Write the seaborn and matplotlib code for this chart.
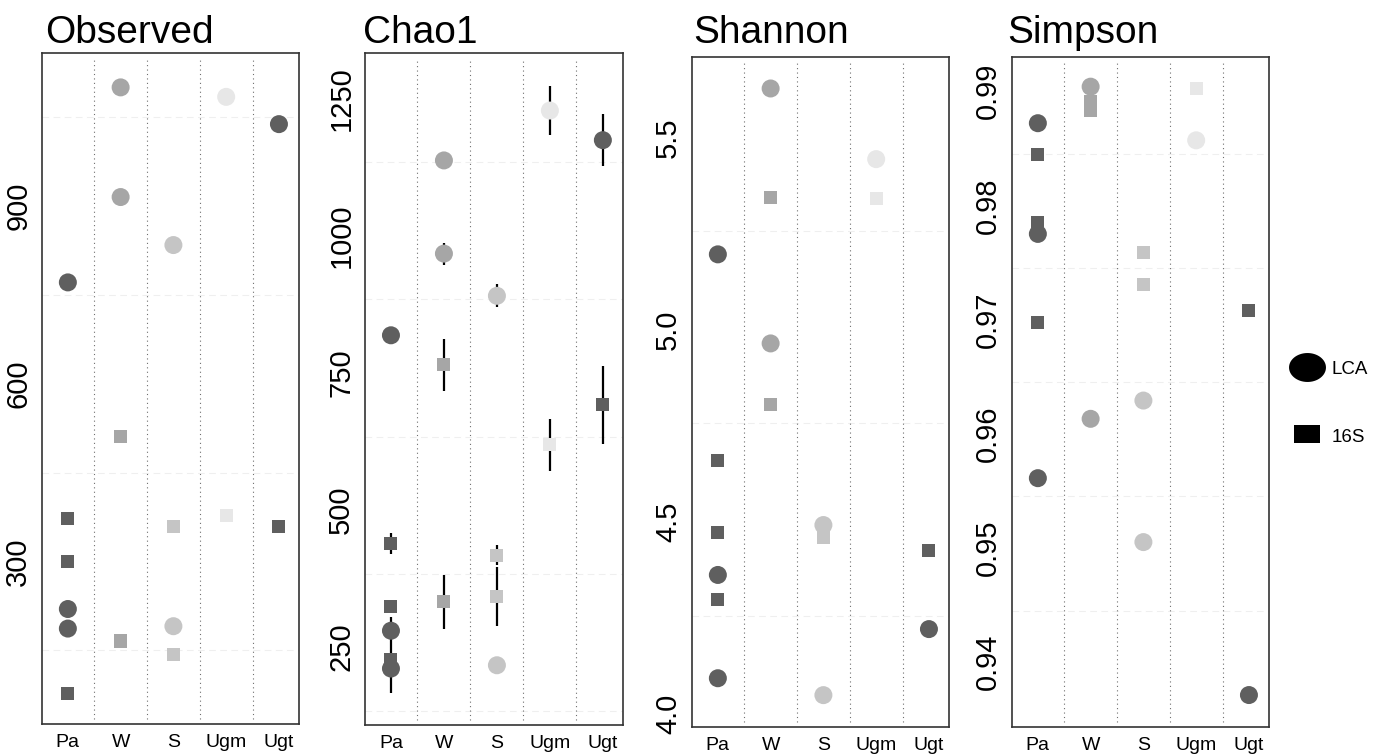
import matplotlib
matplotlib.use("Agg")
import matplotlib.pyplot as plt
from matplotlib.lines import Line2D
from matplotlib.path import Path
import numpy as np
import pandas as pd
import seaborn as sns

# Sites (x categories) and the site of each of the nine samples
sites = ["Pa", "W", "S", "Ugm", "Ugt"]
sample_site = ["Pa", "Pa", "Pa", "W", "W", "S", "S", "Ugm", "Ugt"]
site_colors = ["#5f5f5f", "#a6a6a6", "#c5c5c5", "#e7e7e7", "#5f5f5f"]

# Alpha-diversity estimates per sample, for LCA and 16S classifications
observed_lca = [771, 220, 187, 1100, 915, 834, 191, 1084, 1038]
observed_16s = [373, 300, 77.5, 511, 166, 360, 143, 377, 360]

chao1_lca = [819, 280, 211, 1138, 968, 891, 217, 1229, 1175]
chao1_lca_se = [0, 25, 44, 0, 20, 21, 0, 45, 47]
chao1_16s = [439, 325, 228, 765, 333, 418, 342, 619, 692]
chao1_16s_se = [19, 0, 0, 47, 49, 19, 54, 47, 71]

shannon_lca = [5.197, 4.362, 4.093, 5.629, 4.965, 4.492, 4.049, 5.445, 4.221]
shannon_16s = [4.661, 4.473, 4.297, 5.345, 4.807, 4.470, 4.460, 5.343, 4.426]

simpson_lca = [0.9872, 0.9775, 0.9561, 0.9904, 0.9613, 0.9629, 0.9505, 0.9857, 0.9371]
simpson_16s = [0.9845, 0.9785, 0.9697, 0.9891, 0.9883, 0.9759, 0.9731, 0.9902, 0.9708]

# Axis ticks
observed_ticks = [300, 600, 900]
chao1_ticks = [250, 500, 750, 1000, 1250]
shannon_ticks = [4.0, 4.5, 5.0, 5.5]
simpson_ticks = [0.94, 0.95, 0.96, 0.97, 0.98, 0.99]

sns.set_theme(style="white")
plt.rcParams["font.family"] = ["Liberation Sans", "DejaVu Sans"]

palette = dict(zip(sites, site_colors))


def long_table(lca, s16, lca_se=None, s16_se=None):
    n = len(sample_site)
    df = pd.DataFrame({
        "site": sample_site * 2,
        "method": ["LCA"] * n + ["16S"] * n,
        "value": list(lca) + list(s16),
        "se": (list(lca_se) if lca_se else [0] * n) + (list(s16_se) if s16_se else [0] * n),
    })
    df["site"] = pd.Categorical(df["site"], categories=sites, ordered=True)
    df["pos"] = df["site"].cat.codes
    return df


panels = [
    dict(title="Observed", df=long_table(observed_lca, observed_16s),
         ticks=observed_ticks, fmt="{:.0f}", ylim=(26, 1158),
         grid=[150, 450, 750, 1050], errors=False,
         rect=(42, 53, 299, 724), title_x=45),
    dict(title="Chao1", df=long_table(chao1_lca, chao1_16s, chao1_lca_se, chao1_16s_se),
         ticks=chao1_ticks, fmt="{:.0f}", ylim=(108, 1334),
         grid=[133, 383, 633, 885, 1135], errors=True,
         rect=(365, 53, 623, 725), title_x=363),
    dict(title="Shannon", df=long_table(shannon_lca, shannon_16s),
         ticks=shannon_ticks, fmt="{:.1f}", ylim=(3.966, 5.711),
         grid=[4.255, 4.758, 5.258], errors=False,
         rect=(692, 57, 949, 727), title_x=693),
    dict(title="Simpson", df=long_table(simpson_lca, simpson_16s),
         ticks=simpson_ticks, fmt="{:.2f}", ylim=(0.9343, 0.9930),
         grid=[0.9445, 0.9545, 0.9645, 0.9745, 0.9845], errors=False,
         rect=(1012, 57, 1269, 727), title_x=1007),
]

W, H = 1377, 755
fig = plt.figure(figsize=(W / 100, H / 100), dpi=100)

for p in panels:
    x0, y0, x1, y1 = p["rect"]
    ax = fig.add_axes([x0 / W, 1 - y1 / H, (x1 - x0) / W, (y1 - y0) / H])
    df = p["df"]

    for g in p["grid"]:
        ax.axhline(g, color="#efefef", lw=0.8, ls=(0, (6, 4)), zorder=0)
    for i in range(len(sites) - 1):
        ax.axvline(i + 0.5, ymin=0.008, ymax=0.992, color="#6e6e6e",
                   lw=0.8, ls=(0, (1, 3)), zorder=0)

    if p["errors"]:
        e = df[df["se"] > 0]
        ax.errorbar(e["pos"], e["value"], yerr=e["se"], fmt="none",
                    ecolor="black", elinewidth=1.6, capsize=0, zorder=1)

    sns.scatterplot(data=df[df["method"] == "16S"], x="pos", y="value",
                    hue="site", palette=palette, marker="s", s=88,
                    linewidth=0, legend=False, ax=ax, zorder=2)
    sns.scatterplot(data=df[df["method"] == "LCA"], x="pos", y="value",
                    hue="site", palette=palette, marker="o", s=168,
                    linewidth=0, legend=False, ax=ax, zorder=3)

    ax.set_xlim(-0.49, 4.38)
    ax.set_ylim(*p["ylim"])
    ax.set_xticks(range(len(sites)))
    ax.set_xticklabels(sites, fontsize=14, color="black")
    ax.set_yticks(p["ticks"])
    ax.set_yticklabels([p["fmt"].format(t) for t in p["ticks"]],
                       fontsize=21, rotation=90, va="center", color="black")
    ax.tick_params(axis="both", length=0)
    ax.tick_params(axis="y", pad=7)
    ax.tick_params(axis="x", pad=7.5)
    ax.set_xlabel("")
    ax.set_ylabel("")
    for sp in ax.spines.values():
        sp.set_color("#333333")
        sp.set_linewidth(1.2)

    fig.text(p["title_x"] / W, 1 - 43 / H, p["title"], fontsize=28,
             ha="left", va="baseline", color="black")

# Legend keys: a wide ellipse for LCA and a wide rectangle for 16S
t = np.linspace(0, 2 * np.pi, 64)
ellipse = Path(np.column_stack([np.cos(t), np.sin(t) * 29 / 37]), closed=True)
rect = Path([(-1, -19 / 27), (1, -19 / 27), (1, 19 / 27), (-1, 19 / 27), (-1, -19 / 27)],
            closed=True)
handles = [
    Line2D([], [], ls="none", marker=ellipse, markersize=26.6, color="black", markeredgewidth=0),
    Line2D([], [], ls="none", marker=rect, markersize=19.4, color="black", markeredgewidth=0),
]
fig.legend(handles, ["LCA", "16S"], loc="center left",
           bbox_to_anchor=(1282.5 / W, 1 - 402.6 / H), frameon=False,
           fontsize=13.5, labelcolor="black", borderpad=0, handlelength=1.6,
           handleheight=1.0, handletextpad=0.5, labelspacing=2.6)

fig.savefig("out.png", dpi=100)
